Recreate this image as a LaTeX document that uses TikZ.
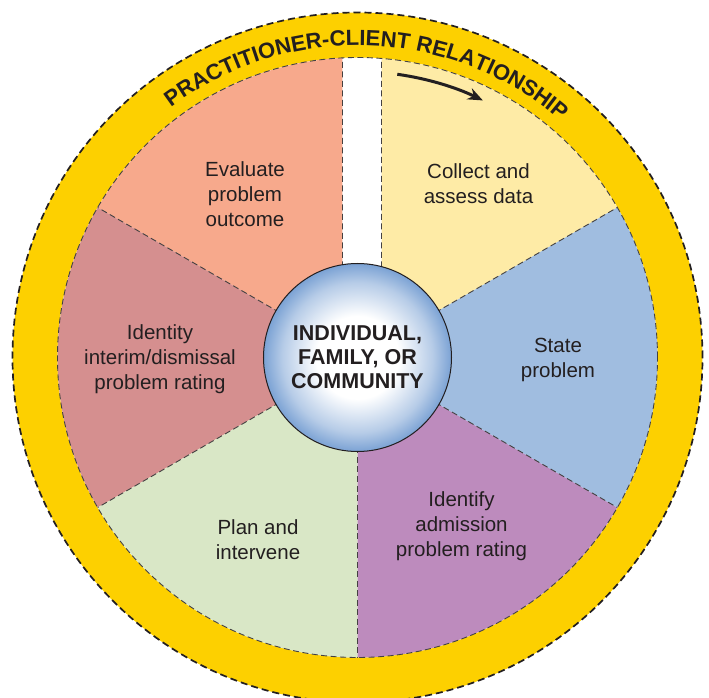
\documentclass[tikz,border=0pt]{standalone}
\usepackage{fontspec}
\setmainfont{Liberation Sans}
\usetikzlibrary{arrows.meta, decorations.text}
\definecolor{ringgold}{HTML}{FDD000}
\definecolor{evalfill}{HTML}{F7A98C}
\definecolor{collectfill}{HTML}{FEEBA6}
\definecolor{statefill}{HTML}{A0BDE0}
\definecolor{admitfill}{HTML}{BD8BBD}
\definecolor{planfill}{HTML}{D9E7C6}
\definecolor{interimfill}{HTML}{D58F8F}
\definecolor{hubblue}{HTML}{7BA2D4}
\definecolor{inktext}{HTML}{231F20}
\pgfdeclareradialshading{hubglow}{\pgfpoint{0bp}{0bp}}{color(0bp)=(white); color(11bp)=(white); color(20bp)=(hubblue!55); color(25bp)=(hubblue); color(50bp)=(hubblue)}

\begin{document}
\begin{tikzpicture}[
    x=1pt, y=1pt,
    >={Stealth[length=15pt, width=12pt]},
    every node/.style={font=\fontsize{20.5}{25}\selectfont, text=inktext},
    stage/.style={align=center},
    rim/.style={draw=inktext, line width=1.7pt, dash pattern=on 7pt off 4pt},
    seam/.style={draw=inktext!85, line width=0.9pt, dash pattern=on 6pt off 3.5pt},
    hub/.style={circle, draw=inktext, line width=1pt, minimum size=188pt,
                shading=hubglow, align=center,
                font=\bfseries\fontsize{21.5}{24}\selectfont},
]
\useasboundingbox (-357.5,-340.5) rectangle (351.5,357.5);
\clip (-357.5,-340.5) rectangle (351.5,357.5);
% yellow ring round the wheel
\fill[ringgold] (0,0) circle[radius=345];
\fill[white] (0,0) circle[radius=300];
% the six stages
\fill[collectfill] (24,0) -- (85.41:300) arc[start angle=85.41, end angle=30, radius=300] -- (0,0) -- cycle;
\fill[evalfill] (-15,0) -- (92.87:300) arc[start angle=92.87, end angle=150, radius=300] -- (0,0) -- cycle;
\foreach \a/\c in {150/interimfill, 210/planfill, 270/admitfill, 330/statefill}
  \fill[\c] (0,0) -- (\a:300) arc[start angle=\a, delta angle=60, radius=300] -- cycle;
\foreach \a in {30,150,210,270,330}
  \draw[seam] (\a:90) -- (\a:300);
\draw[seam] (-15,90) -- (92.87:300);
\draw[seam] (24,90) -- (85.41:300);
\draw[seam] (0,0) circle[radius=300];
\draw[rim] (0,0) circle[radius=345];
% ring title and direction of the cycle
\path[decorate, decoration={text along path, text align=center, text color=inktext,
      text={|\bfseries\fontsize{22}{22}\selectfont|PRACTITIONER-CLIENT RELATIONSHIP}}]
  (148:312) arc[start angle=148, end angle=28, radius=312];
\coordinate (turn) at (82:286);
\draw[->, line width=3pt, inktext] (turn) arc[start angle=82, end angle=64, radius=286];
\node[hub] (hub) at (0,0) {INDIVIDUAL,\\FAMILY, OR\\COMMUNITY};
\node[stage] (collect) at (121,174) {Collect and\\assess data};
\node[stage] (state)   at (200.5,-2) {State\\problem};
\node[stage] (admit)   at (104,-169)   {Identify\\admission\\problem rating};
\node[stage] (plan)    at (-99.5,-182) {Plan and\\intervene};
\node[stage] (interim) at (-197.5,-2) {Identity\\interim/dismissal\\problem rating};
\node[stage] (eval)    at (-112.5,163) {Evaluate\\problem\\outcome};
\end{tikzpicture}
\end{document}
